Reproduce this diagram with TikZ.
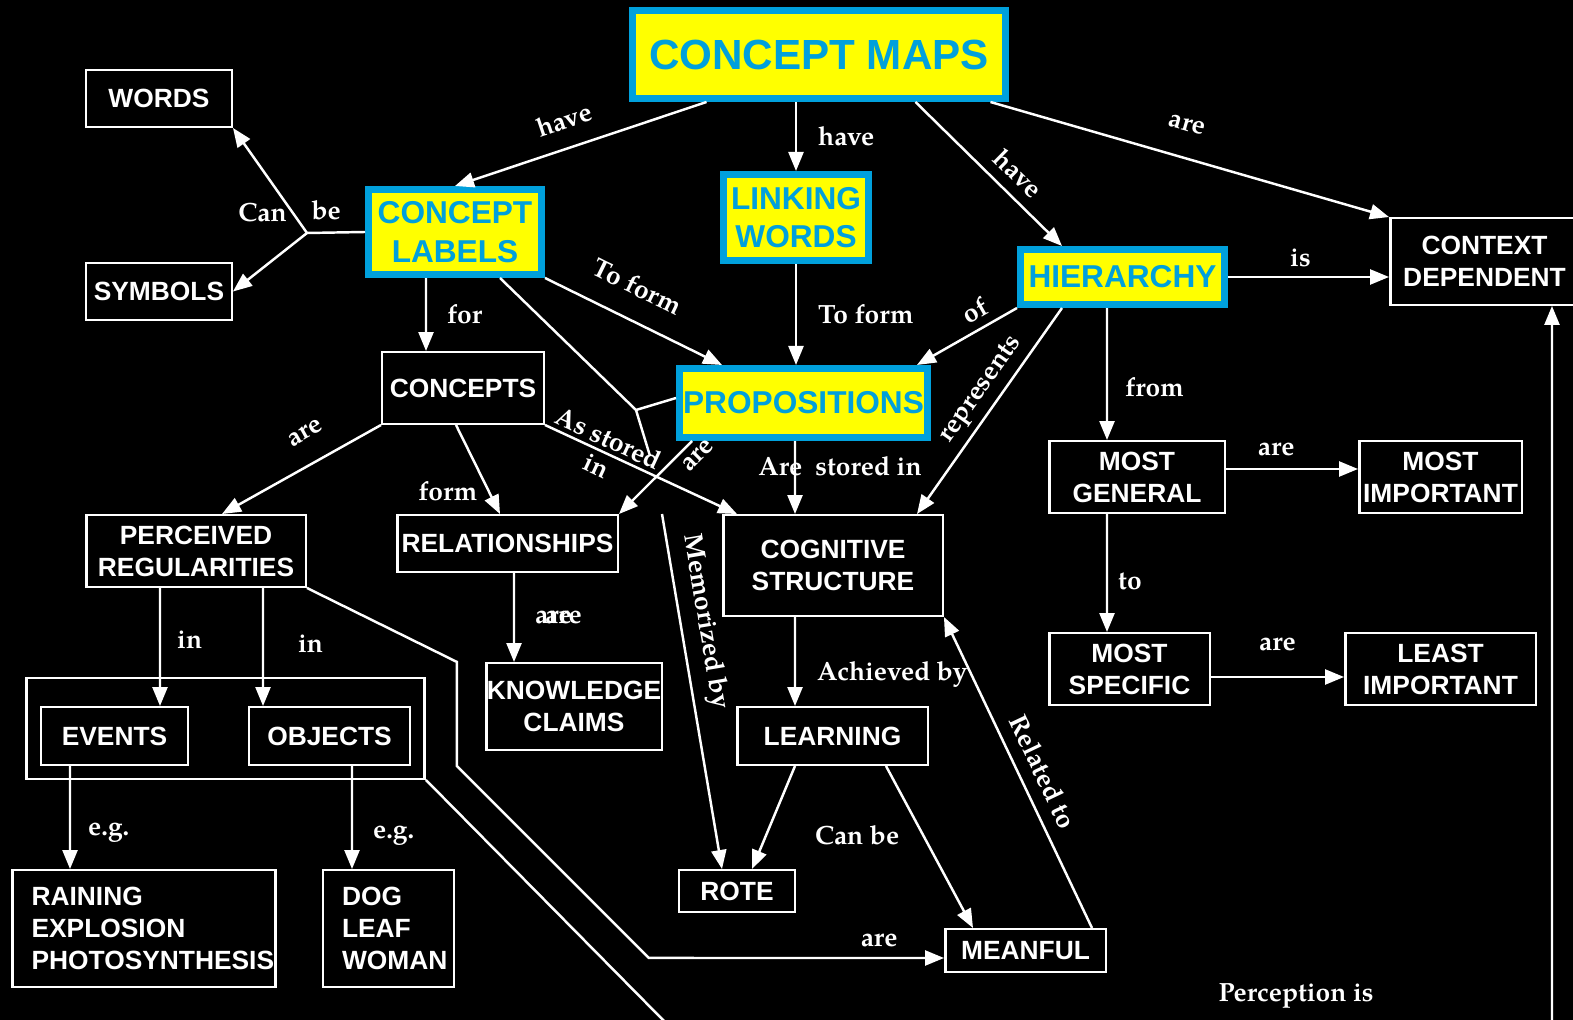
\documentclass[tikz,border=0pt]{standalone}
\usepackage{fontspec}
\setmainfont{Liberation Sans}
\newfontfamily\lblfont{TeX Gyre Pagella}
\usetikzlibrary{arrows.meta,calc,positioning}
\definecolor{jaune}{HTML}{FFFF00}
\definecolor{bleu}{HTML}{00A0DC}

\begin{document}
\begin{tikzpicture}[
			x=0.02cm, y=-0.02cm,
			concept/.style={draw=white, line width=1.4pt, text=white, font=\bfseries\fontsize{15}{18.2}\selectfont, align=center, inner sep=0pt},
			keyconcept/.style={draw=bleu, fill=jaune, line width=4pt, text=bleu, font=\bfseries\fontsize{18}{22}\selectfont, align=center, inner sep=0pt},
			lbl/.style={text=white, font=\lblfont\bfseries\fontsize{15}{17}\selectfont, inner sep=0pt},
			link/.style={draw=white, line width=1.4pt, -{Triangle[length=0.38cm, width=0.3cm]}},
			bare/.style={draw=white, line width=1.4pt}
			]

			% Le fond
			\fill[black] (0,0) rectangle (1573,1020);
			\useasboundingbox (0,0) rectangle (1573,1020);

			% Les concepts principaux
			\node[keyconcept, minimum width=7.45cm, minimum height=1.76cm, font=\bfseries\fontsize{24}{28}\selectfont] (cm) at (819,54.5) {CONCEPT MAPS};
			\node[keyconcept, minimum width=3.46cm, minimum height=1.7cm] (cl) at (455,232) {CONCEPT\\LABELS};
			\node[keyconcept, minimum width=2.9cm, minimum height=1.72cm] (lw) at (796,217.5) {LINKING\\WORDS};
			\node[keyconcept, minimum width=4.08cm, minimum height=1.1cm] (hier) at (1122.5,277) {HIERARCHY};
			\node[keyconcept, minimum width=4.96cm, minimum height=1.38cm] (prop) at (803.5,403) {PROPOSITIONS};

			% Les autres concepts
			\node[concept, minimum width=2.91cm, minimum height=1.13cm] (words) at (159,98.5) {WORDS};
			\node[concept, minimum width=2.91cm, minimum height=1.13cm] (symbols) at (159,291.5) {SYMBOLS};
			\node[concept, minimum width=3.77cm, minimum height=1.73cm] (cd) at (1484.5,261.5) {CONTEXT\\DEPENDENT};
			\node[concept, minimum width=3.23cm, minimum height=1.43cm] (concepts) at (463,388) {CONCEPTS};
			\node[concept, minimum width=4.39cm, minimum height=1.43cm] (pr) at (196,551) {PERCEIVED\\REGULARITIES};
			\node[concept, minimum width=4.41cm, minimum height=1.13cm] (rel) at (507.5,543.5) {RELATIONSHIPS};
			\node[concept, minimum width=4.39cm, minimum height=2.01cm] (cog) at (833,565.5) {COGNITIVE\\STRUCTURE};
			\node[concept, minimum width=3.51cm, minimum height=1.43cm] (mg) at (1137,477) {MOST\\GENERAL};
			\node[concept, minimum width=3.25cm, minimum height=1.43cm] (mi) at (1440.5,477) {MOST\\IMPORTANT};
			\node[concept, minimum width=3.21cm, minimum height=1.43cm] (ms) at (1129.5,669) {MOST\\SPECIFIC};
			\node[concept, minimum width=3.81cm, minimum height=1.43cm] (li) at (1440.5,669) {LEAST\\IMPORTANT};
			\node[concept, minimum width=3.51cm, minimum height=1.73cm] (kc) at (574,706.5) {KNOWLEDGE\\CLAIMS};
			\node[concept, minimum width=7.97cm, minimum height=2.01cm] (grp) at (225.5,728.5) {};
			\node[concept, minimum width=2.93cm, minimum height=1.15cm] (ev) at (114.5,736) {EVENTS};
			\node[concept, minimum width=3.21cm, minimum height=1.15cm] (obj) at (329.5,736) {OBJECTS};
			\node[concept, minimum width=5.27cm, minimum height=2.33cm, align=left, text width=4.5cm] (rain) at (144,928.5) {RAINING\\EXPLOSION\\PHOTOSYNTHESIS};
			\node[concept, minimum width=2.61cm, minimum height=2.33cm, align=left, text width=1.86cm] (dog) at (388.5,928.5) {DOG\\LEAF\\WOMAN};
			\node[concept, minimum width=3.81cm, minimum height=1.15cm] (learn) at (832.5,736) {LEARNING};
			\node[concept, minimum width=2.31cm, minimum height=0.83cm] (rote) at (737,891) {ROTE};
			\node[concept, minimum width=3.21cm, minimum height=0.85cm] (mean) at (1025.5,950.5) {MEANFUL};
			\node[lbl] (perc) at (1296,996) {Perception is};

			% Les points libres
			\coordinate (j1) at (307,233);
			\coordinate (j2) at (636,410);
			\coordinate (j3) at (650,456);
			\coordinate (mz) at (662,514);
			\coordinate (pe) at (1552,1022);
			\coordinate (ge) at (665,1022);

			% Les liens
			\draw[link] ([xshift=-2.25cm]cm.south) -- (cl.north) node[pos=0.53, sloped, above=0.35cm, lbl] {have};
			\draw[link] (cm.south -| lw.north) -- (lw.north) node[midway, right=0.42cm, lbl] {have};
			\draw[link] ([xshift=1.93cm]cm.south) -- ([xshift=-1.21cm]hier.north) node[pos=0.6, sloped, above=0.2cm, lbl] {have};
			\draw[link] ([xshift=3.43cm]cm.south) -- (cd.north west) node[pos=0.47, sloped, above=0.5cm, lbl] {are};

			\draw[bare] (cl.west) -- (j1) node[pos=0.67, above=0.22cm, lbl] {be};
			\draw[link] (j1) -- (words.south east) node[pos=0.19, left=0.1cm, lbl] {Can};
			\draw[link] (j1) -- (symbols.east);
			\draw[link] ([xshift=-0.58cm]cl.south) -- ([xshift=-0.74cm]concepts.north) node[midway, right=0.4cm, lbl] {for};
			\draw[link] (cl.south east) -- ([xshift=-1.63cm]prop.north) node[pos=0.44, sloped, above=0.45cm, lbl] {To form};
			\draw[bare] ([xshift=0.9cm]cl.south) -- (j2) -- ([yshift=0.1cm]prop.west);
			\draw[bare] (j2) -- (j3);

			\draw[link] (lw.south) -- (lw.south |- prop.north) node[midway, right=0.42cm, lbl] {To form};

			\draw[link] (hier.south west) -- ([xshift=2.27cm]prop.north) node[pos=0.33, sloped, above=0.16cm, lbl] {of};
			\draw[link] (hier.east) -- (hier.east -| cd.west) node[pos=0.45, above=0.18cm, lbl] {is};
			\draw[link] ([xshift=-1.21cm]hier.south) -- ([xshift=1.68cm]cog.north) node[pos=0.45, sloped, above=0.12cm, lbl] {represents};
			\draw[link] ([xshift=-0.31cm]hier.south) -- ([xshift=-0.6cm]mg.north) node[pos=0.6, right=0.34cm, lbl] {from};
			\draw[link] ([yshift=0.16cm]mg.east) -- ([yshift=0.16cm]mi.west) node[pos=0.38, above=0.24cm, lbl] {are};
			\draw[link] ([xshift=-0.6cm]mg.south) -- ([xshift=-0.45cm]ms.north) node[pos=0.57, right=0.2cm, lbl] {to};
			\draw[link] ([yshift=-0.16cm]ms.east) -- ([yshift=-0.16cm]li.west) node[midway, above=0.5cm, lbl] {are};
			\draw[link] (pe) -- ([xshift=1.35cm]cd.south);

			\draw[link] (concepts.south west) -- ([xshift=0.52cm]pr.north) node[pos=0.385, sloped, above=0.45cm, lbl] {are};
			\draw[link] ([xshift=-0.14cm]concepts.south) -- ([xshift=-0.15cm]rel.north) node[pos=0.74, left=0.2cm, lbl] {form};
			\draw[link] (concepts.south east) -- ([xshift=-1.92cm]cog.north) node[pos=0.3, sloped, lbl, align=center] {As stored\\in};

			\draw[link] ([xshift=-2.23cm]prop.south) -- (rel.north east) node[pos=0.06, sloped, below=0.14cm, lbl] {are};
			\draw[link] ([xshift=-0.17cm]prop.south) -- ([xshift=-0.76cm]cog.north) node[pos=0.35, xshift=0.9cm, lbl] {Are\ \ stored in};
			\draw[link] (mz) -- ([xshift=-0.3cm]rote.north) node[pos=0.315, sloped, above=0.2cm, lbl] {Memorized by};

			\draw[link] ([xshift=0.13cm]rel.south) -- ([xshift=-1.2cm]kc.north) node[midway, right=0.4cm, lbl] {are} node[midway, right=0.6cm, lbl] {are};

			\draw[link] ([xshift=-0.72cm]pr.south) -- ([xshift=0.91cm]ev.north) node[pos=0.44, right=0.32cm, lbl] {in};
			\draw[link] ([xshift=1.34cm]pr.south) -- ([xshift=-1.33cm]obj.north) node[pos=0.47, right=0.68cm, lbl] {in};
			\draw[link] (pr.south east) -- ++(150,74) -- ++(0,104) -- ++(192,192) -- ([yshift=-0.15cm]mean.west) node[pos=0.78, above=0.2cm, lbl] {are};
			\draw[bare] (grp.south east) -- (ge);

			\draw[link] ([xshift=-0.89cm]ev.south) -- ([xshift=-1.48cm]rain.north) node[pos=0.65, right=0.34cm, lbl] {e.g.};
			\draw[link] ([xshift=0.45cm]obj.south) -- ([xshift=-0.73cm]dog.north) node[pos=0.68, right=0.4cm, lbl] {e.g.};

			\draw[link] ([xshift=-0.76cm]cog.south) -- ([xshift=-0.75cm]learn.north) node[pos=0.65, right=0.42cm, lbl] {Achieved by};
			\draw[link] ([xshift=-0.75cm]learn.south) -- ([xshift=0.3cm]rote.north);
			\draw[link] ([xshift=1.07cm]learn.south) -- ([xshift=-1.05cm]mean.north) node[pos=0.43, left=0.46cm, lbl] {Can be};
			\draw[link] ([xshift=1.33cm]mean.north) -- (cog.south east) node[pos=0.47, sloped, above=0.24cm, lbl] {Related to};
		\end{tikzpicture}
\end{document}
